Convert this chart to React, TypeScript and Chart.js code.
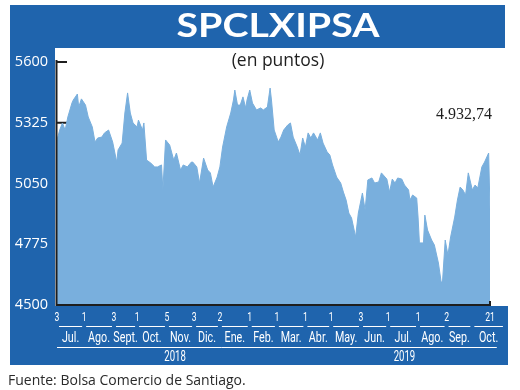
import React, { useEffect, useRef } from "react";
import { Chart, registerables } from "chart.js";

Chart.register(...registerables);

// Trading sessions counted from 3 Jul 2018 (session 0) to 21 Oct 2019 (session 319)
const sessionIndex = [
  0, 2, 4, 6, 8, 11, 12, 15, 16, 18, 21, 23, 26, 28, 30, 33, 35, 38, 41, 44,
  45, 48, 50, 52, 54, 56, 59, 60, 63, 64, 66, 69, 72, 74, 77, 78, 80, 83, 86, 88,
  91, 93, 96, 99, 100, 103, 105, 108, 111, 113, 115, 118, 120, 122, 125, 128, 130, 131, 133, 135,
  137, 139, 140, 142, 144, 147, 150, 152, 155, 157, 158, 160, 163, 165, 167, 170, 172, 174, 177, 179,
  181, 183, 185, 187, 189, 192, 194, 196, 199, 201, 203, 206, 209, 211, 213, 215, 217, 220, 222, 225,
  227, 229, 232, 234, 237, 239, 243, 245, 247, 249, 251, 254, 256, 259, 260, 262, 265, 266, 267, 270,
  271, 273, 276, 278, 281, 283, 284, 286, 288, 290, 293, 295, 297, 299, 301, 303, 306, 308, 310, 313,
  315, 318, 319,
];

const closeValues = [
  5247, 5292, 5324, 5292, 5351, 5414, 5428, 5455, 5396, 5433, 5405, 5351, 5306, 5238, 5256, 5260, 5279, 5292, 5238, 5147,
  5202, 5233, 5369, 5460, 5369, 5324, 5306, 5337, 5292, 5324, 5156, 5143, 5125, 5125, 5134, 5021, 5247, 5224, 5156, 5188,
  5111, 5134, 5125, 5147, 5147, 5125, 5052, 5165, 5111, 5098, 5034, 5079, 5125, 5215, 5306, 5369, 5428, 5473, 5405, 5405,
  5442, 5392, 5428, 5473, 5414, 5383, 5392, 5383, 5396, 5482, 5428, 5292, 5238, 5260, 5292, 5315, 5324, 5260, 5215, 5179,
  5256, 5215, 5279, 5256, 5279, 5247, 5279, 5233, 5193, 5179, 5134, 5079, 5052, 5011, 4975, 4916, 4894, 4808, 4916, 5007,
  4930, 5066, 5075, 5052, 5057, 5098, 5070, 5011, 5070, 5052, 5075, 5070, 5043, 5021, 4975, 4998, 4984, 4898, 4781, 4781,
  4907, 4839, 4794, 4772, 4690, 4604, 4604, 4794, 4726, 4808, 4898, 4975, 5034, 5021, 4998, 5098, 5021, 5043, 5030, 5125,
  5147, 5188, 4932.74,
];

const yTicks = [4500, 4775, 5050, 5325, 5600];
const lastValueLabel = "4.932,74";

const tickSessions = [0, 20, 42, 59, 81, 101, 120, 142, 162, 183, 202, 224, 244, 266, 287, 319];
const tickDays = ["3", "1", "3", "1", "5", "3", "2", "1", "1", "1", "1", "3", "1", "1", "2", "21"];

const monthNames = ["Jul.", "Ago.", "Sept.", "Oct.", "Nov.", "Dic.", "Ene.", "Feb.", "Mar.", "Abr.", "May.", "Jun.", "Jul.", "Ago.", "Sep.", "Oct."];
const monthBounds = [0, 20, 42, 59, 81, 101, 120, 142, 162, 183, 202, 224, 244, 266, 287, 306, 330];

const yearNames = ["2018", "2019"];
const yearStart = [0, 121];
const yearEnd = [121, 324];
const yearLabelAt = [87, 256];

const TITLE = "SPCLXIPSA";
const SUBTITLE = "(en puntos)";
const SOURCE = "Fuente: Bolsa Comercio de Santiago.";

const FRAME_BLUE = "#1f64ad";
const FILL_BLUE = "#79afdd";
const INK = "#1e1e1e";

function drawText(
  ctx: CanvasRenderingContext2D,
  text: string,
  x: number,
  y: number,
  font: string,
  color: string,
  align: CanvasTextAlign = "center",
  sx = 1
) {
  ctx.save();
  ctx.font = font;
  ctx.fillStyle = color;
  ctx.textBaseline = "middle";
  ctx.textAlign = align;
  ctx.translate(x, y);
  ctx.scale(sx, 1);
  ctx.fillText(text, 0, 0);
  ctx.restore();
}

const framePlugin = {
  id: "frame",
  beforeDraw(chart: any) {
    const ctx: CanvasRenderingContext2D = chart.ctx;
    const xs = chart.scales.x;
    const ys = chart.scales.y;
    ctx.save();
    ctx.fillStyle = "#ffffff";
    ctx.fillRect(0, 0, chart.width, chart.height);
    ctx.fillStyle = FRAME_BLUE;
    ctx.fillRect(10, 5, 495, 43);
    ctx.fillRect(10, 48, 45, 317);
    ctx.fillRect(10, 306, 498, 59);
    ctx.restore();

    // Title fitted to width
    ctx.save();
    ctx.font = 'bold 32px "Lato"';
    const tw = ctx.measureText(TITLE).width;
    ctx.restore();
    drawText(ctx, TITLE, 278, 27, 'bold 32px "Lato"', "#ffffff", "center", 203 / tw);

    // Y labels
    yTicks.forEach((v) => {
      drawText(ctx, String(v), 48, ys.getPixelForValue(v), '14.5px "Open Sans"', "#ffffff", "right");
    });

    // Bottom axis labels
    tickSessions.forEach((s, i) => {
      drawText(ctx, tickDays[i], xs.getPixelForValue(s), 318, '12px "Roboto"', "#ffffff", "center", 0.72);
    });
    ctx.save();
    ctx.strokeStyle = "#ffffff";
    ctx.lineWidth = 1;
    for (let i = 0; i < monthNames.length; i++) {
      const a = xs.getPixelForValue(monthBounds[i]);
      const b = xs.getPixelForValue(monthBounds[i + 1]);
      ctx.beginPath();
      ctx.moveTo(a + 2, 326.5);
      ctx.lineTo(b - 2, 326.5);
      ctx.stroke();
      drawText(ctx, monthNames[i], (a + b) / 2, 338, '14.5px "Roboto"', "#ffffff", "center", 0.74);
    }
    for (let i = 0; i < yearNames.length; i++) {
      const a = xs.getPixelForValue(yearStart[i]);
      const b = xs.getPixelForValue(yearEnd[i]);
      ctx.beginPath();
      ctx.moveTo(a, 347.5);
      ctx.lineTo(b, 347.5);
      ctx.stroke();
      drawText(ctx, yearNames[i], xs.getPixelForValue(yearLabelAt[i]), 357.5, '14.5px "Roboto"', "#ffffff", "center", 0.66);
    }
    ctx.restore();

    // Source
    drawText(ctx, SOURCE, 8, 381, '14px "Open Sans"', "#2a2a2a", "left");
  },
  beforeDatasetsDraw(chart: any) {
    const ctx: CanvasRenderingContext2D = chart.ctx;
    const ys = chart.scales.y;
    const left = chart.chartArea.left;
    ctx.save();
    ctx.strokeStyle = INK;
    ctx.lineWidth = 2;
    yTicks.forEach((v) => {
      const y = ys.getPixelForValue(v);
      ctx.beginPath();
      ctx.moveTo(left - 1, y);
      ctx.lineTo(left + 10, y);
      ctx.stroke();
    });
    ctx.restore();
  },
  afterDatasetsDraw(chart: any) {
    const ctx: CanvasRenderingContext2D = chart.ctx;
    const { left, right, top, bottom } = chart.chartArea;
    ctx.save();
    ctx.strokeStyle = INK;
    ctx.lineWidth = 2;
    ctx.beginPath();
    ctx.moveTo(left - 0.5, top - 2);
    ctx.lineTo(left - 0.5, bottom);
    ctx.lineTo(right, bottom);
    ctx.stroke();
    ctx.beginPath();
    ctx.moveTo(right, bottom - 4);
    ctx.lineTo(right, bottom + 1);
    ctx.stroke();
    ctx.restore();

    drawText(ctx, SUBTITLE, 278, 61, '17.5px "Open Sans"', INK, "center");
    drawText(ctx, lastValueLabel, 464, 115, '16px "Liberation Serif"', INK, "center");
  },
};

export default function App() {
  const ref = useRef<HTMLCanvasElement | null>(null);
  useEffect(() => {
    if (!ref.current) return;
    const chart = new Chart(ref.current, {
      type: "line",
      data: {
        datasets: [
          {
            data: sessionIndex.map((s, i) => ({ x: s, y: closeValues[i] })),
            fill: "start",
            backgroundColor: FILL_BLUE,
            borderColor: FILL_BLUE,
            borderWidth: 1,
            pointRadius: 0,
            tension: 0,
          },
        ],
      },
      options: {
        animation: false,
        responsive: false,
        devicePixelRatio: 1,
        layout: { padding: { left: 57, right: 30, top: 62, bottom: 85 } },
        plugins: { legend: { display: false }, tooltip: { enabled: false }, title: { display: false } },
        scales: {
          x: { type: "linear", min: 0, max: 319, display: false },
          y: { min: 4500, max: 5600, display: false },
        },
      },
      plugins: [framePlugin],
    });
    return () => chart.destroy();
  }, []);
  return (
    <div style={{ position: "absolute", left: 0, top: 0, width: 520, height: 390, background: "#fff" }}>
      <canvas ref={ref} width={520} height={390} style={{ width: 520, height: 390, display: "block" }} />
    </div>
  );
}
